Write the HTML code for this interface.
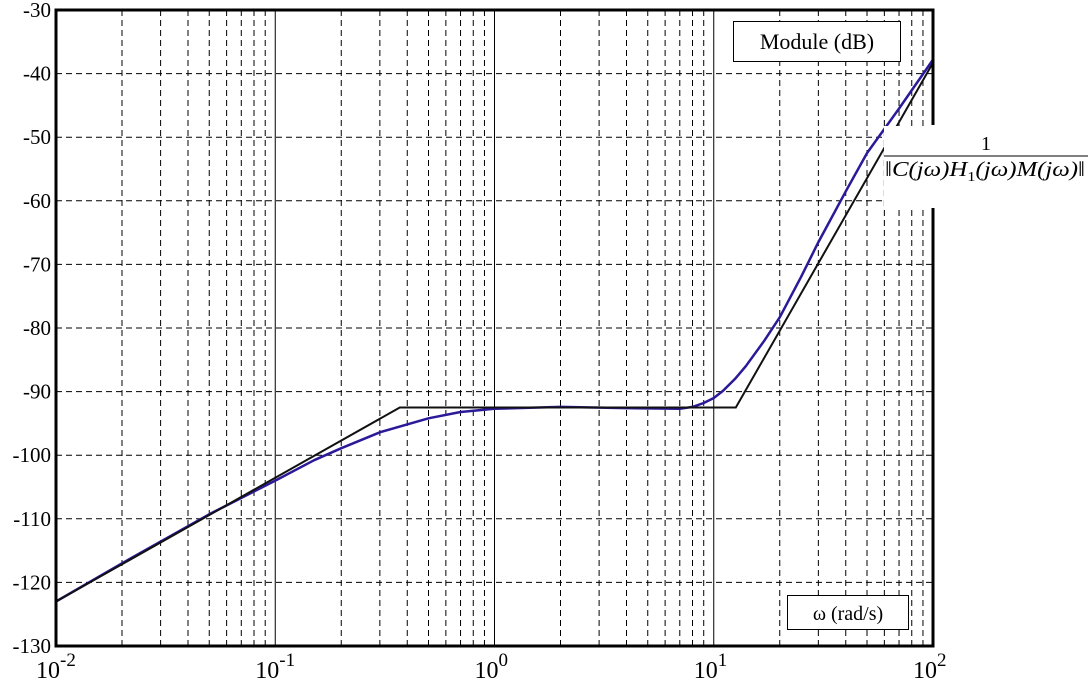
<!DOCTYPE html>
<html><head><meta charset="utf-8"><style>
html,body{margin:0;padding:0;background:#fff}
svg{display:block;font-family:"Liberation Serif",serif}
</style></head><body>
<svg id="chart" width="1088" height="686" viewBox="0 0 1088 686">
<g id="grid"></g>
<g id="curves"></g>
<g id="axes"></g>
</svg>
<script>
const yTicks=[-30,-40,-50,-60,-70,-80,-90,-100,-110,-120,-130];
const xDecades=[-2,-1,0,1,2];
const asymW=[0.01,0.37,12.6,100];
const asymDb=[-123,-92.5,-92.5,-38.3];
const curveW=[0.01,0.02,0.05,0.1,0.15,0.2,0.3,0.5,0.7,1,2,4,7,8,9,10,11,12.5,14,17,20,25,30,40,50,70,100];
const curveDb=[-123,-117,-109.3,-104,-100.8,-98.9,-96.4,-94.2,-93.2,-92.7,-92.4,-92.6,-92.7,-92.4,-91.8,-91,-89.9,-88,-86,-82,-78.3,-72,-66.5,-58.5,-52.5,-45.5,-37.8];

const L=56,R=933,T=10,B=646;
const xs=w=>L+(Math.log10(w)+2)/4*(R-L);
const ys=d=>T+(-30-d)/100*(B-T);
const NS="http://www.w3.org/2000/svg";
function mk(tag,attrs,parent){const e=document.createElementNS(NS,tag);for(const k in attrs)e.setAttribute(k,attrs[k]);parent.appendChild(e);return e;}
const grid=document.getElementById('grid'),curves=document.getElementById('curves'),axes=document.getElementById('axes');

yTicks.forEach(v=>{
  const y=ys(v);
  if(v>-130&&v<-30){const l=mk('line',{x1:L,x2:R,y1:y,y2:y,stroke:'#000','stroke-width':1,'stroke-dasharray':'6,4'},grid);
  
  }
  const t=mk('text',{x:51,y:y+7,'text-anchor':'end','font-size':21},axes);t.textContent=v;
  
  
});
for(let d=-2;d<2;d++){
  for(let m=1;m<10;m++){
    const x=xs(m*Math.pow(10,d));
    if(m===1&&d===-2)continue;
    const l=mk('line',{x1:x,x2:x,y1:T,y2:B,stroke:'#000','stroke-width':1},grid);
    if(m!==1)l.setAttribute('stroke-dasharray','6,4');
    
    
  }
}
xDecades.forEach(d=>{
  const x=xs(Math.pow(10,d));
  const t=mk('text',{x:x-20,y:678,'font-size':24},axes);
  t.innerHTML='10<tspan dy="-12" font-size="19">'+d+'</tspan>';
  
  
});
let p=curveW.map((w,i)=>xs(w).toFixed(1)+','+ys(curveDb[i]).toFixed(1)).join(' ');
const c=mk('polyline',{points:p,fill:'none',stroke:'#2a1a9a','stroke-width':2.5,'stroke-linejoin':'round'},curves);


p=asymW.map((w,i)=>xs(w).toFixed(1)+','+ys(asymDb[i]).toFixed(1)).join(' ');
const a=mk('polyline',{points:p,fill:'none',stroke:'#111','stroke-width':2},curves);


const f=mk('path',{d:`M${R},208V${B}H${L}V${T}H${R}V125`,fill:'none',stroke:'#000','stroke-width':3},axes);


const wb=mk('rect',{x:884,y:126,width:204,height:80,fill:'#fff'},axes);


const n=mk('text',{x:986,y:150,'text-anchor':'middle','font-size':20},axes);n.textContent='1';


const fl=mk('line',{x1:884,x2:1088,y1:156,y2:156,stroke:'#000','stroke-width':1},axes);


const den=mk('text',{x:985,y:176,'text-anchor':'middle','font-size':21,'font-style':'italic',textLength:200,lengthAdjust:'spacingAndGlyphs'},axes);
den.innerHTML='‖C(jω)H<tspan dy="5" font-size="14" font-style="normal">1</tspan><tspan dy="-5">(jω)M(jω)‖</tspan>';


const b1=mk('rect',{x:733.5,y:21.5,width:167,height:40,fill:'#fff',stroke:'#000','stroke-width':1},axes);


const t1=mk('text',{x:817,y:49,'text-anchor':'middle','font-size':22},axes);t1.textContent='Module (dB)';


const b2=mk('rect',{x:787.5,y:595.5,width:121,height:34,fill:'#fff',stroke:'#000','stroke-width':1},axes);


const t2=mk('text',{x:848,y:620,'text-anchor':'middle','font-size':20},axes);t2.textContent='ω (rad/s)';


</script>
</body></html>
